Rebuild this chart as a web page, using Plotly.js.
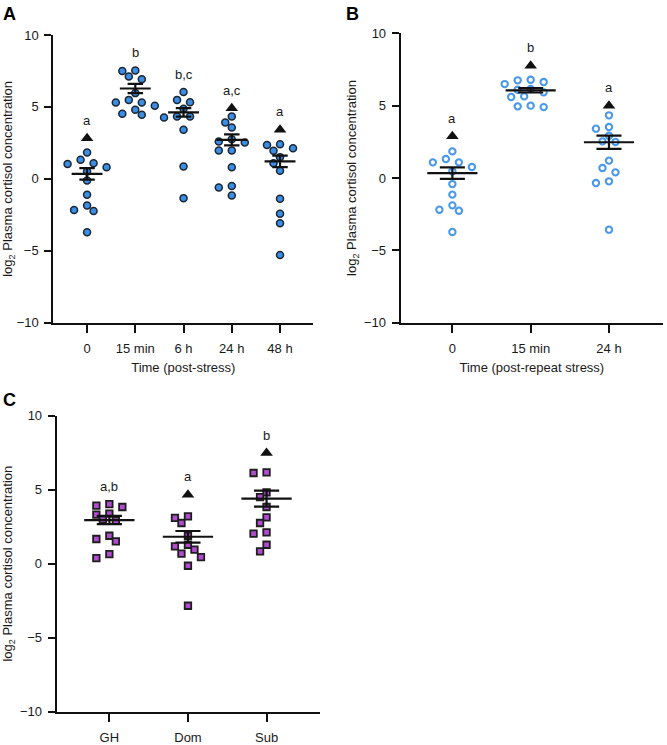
<!DOCTYPE html>
<html>
<head>
<meta charset="utf-8">
<script src="https://cdn.plot.ly/plotly-3.0.1.min.js"></script>
<style>html,body{margin:0;padding:0;background:#fff;}#chart{width:667px;height:745px;}</style>
</head>
<body>
<div id="chart"></div>
<script>
// ---------- DATA ----------
const catsA = ["0", "15 min", "6 h", "24 h", "48 h"];
const valsA = [
  [1.83, 1.32, 1.09, 1.04, 0.81, 0.51, -0.12, -1.11, -1.85, -2.16, -2.23, -3.71],
  [7.53, 7.49, 7.12, 6.93, 5.96, 5.49, 5.31, 5.31, 5.08, 4.80, 4.52, 4.45],
  [6.03, 5.49, 5.33, 4.87, 4.33, 4.33, 4.27, 3.41, 0.86, -1.34],
  [4.33, 3.92, 3.57, 2.75, 2.60, 2.53, 1.97, 1.97, 0.81, -0.49, -0.60, -1.16],
  [2.41, 2.36, 2.13, 1.95, 1.51, 1.09, 0.56, -1.39, -2.43, -3.08, -5.29]
];
const meanA = [0.35, 6.28, 4.62, 2.71, 1.22];
const semA  = [0.40, 0.32, 0.30, 0.38, 0.40];
const triA  = [2.83, null, null, 4.91, 3.41];
const letA  = ["a", "b", "b,c", "a,c", "a"];

const catsB = ["0", "15 min", "24 h"];
const valsB = [
  [1.84, 1.31, 1.08, 1.08, 0.76, 0.46, -0.42, -1.15, -1.89, -2.19, -2.26, -3.73],
  [6.79, 6.75, 6.63, 6.49, 6.15, 6.10, 5.92, 5.64, 5.60, 5.00, 4.95, 4.90],
  [4.33, 3.52, 3.41, 2.92, 2.53, 2.49, 1.20, 0.69, 0.39, -0.23, -0.35, -3.57]
];
const meanB = [0.34, 6.06, 2.47];
const semB  = [0.40, 0.15, 0.46];
const triB  = [2.88, 7.76, 5.00];
const letB  = ["a", "b", "a"];

const catsC = ["GH", "Dom", "Sub"];
const valsC = [
  [4.03, 3.92, 3.83, 3.38, 3.31, 2.97, 2.91, 1.89, 1.67, 1.51, 0.65, 0.38],
  [3.20, 3.09, 2.75, 1.89, 1.28, 1.17, 0.95, 0.68, 0.45, -0.14, -2.84],
  [6.17, 6.13, 4.82, 4.50, 3.83, 3.13, 2.75, 2.12, 2.03, 1.28, 0.83]
];
const meanC = [2.95, 1.82, 4.40];
const semC  = [0.28, 0.39, 0.54];
const triC  = [null, 4.66, 7.48];
const letC  = ["a,b", "a", "b"];

const titleA = "Time (post-stress)";
const titleB = "Time (post-repeat stress)";
const yTitle = "log<sub>2</sub> Plasma cortisol concentration";

// ---------- LAYOUT GEOMETRY ----------
const W = 667, H = 745;
const FONT = "Liberation Sans, Arial, Helvetica, sans-serif";
const panels = [
  {id: "", cats: catsA, vals: valsA, mean: meanA, sem: semA, tri: triA, let: letA,
   xdom: [53.3, 313.3], ydom: [35, 322.7], xr: [-0.70, 4.69], title: titleA,
   marker: {symbol: "circle", size: 7, color: "#3a8ee6", line: {color: "#1b2633", width: 1.5}}},
  {id: "2", cats: catsB, vals: valsB, mean: meanB, sem: semB, tri: triB, let: letB,
   xdom: [400.7, 663], ydom: [33.3, 322.7], xr: [-0.66, 2.69], title: titleB,
   marker: {symbol: "circle", size: 6.3, color: "#ffffff", line: {color: "#4a98ec", width: 2.1}}},
  {id: "3", cats: catsC, vals: valsC, mean: meanC, sem: semC, tri: triC, let: letC,
   xdom: [56.7, 320], ydom: [415.7, 711.7], xr: [-0.67, 2.68], title: null,
   marker: {symbol: "square", size: 6.5, color: "#b24bd0", line: {color: "#1e1e1e", width: 1.8}}}
];
const yr = [-10, 10];

// simple deterministic beeswarm in pixel space
function swarm(values, pxX, pxY) {
  const step = 6.5, coll = 8.0;
  const placed = [];
  const offs = [];
  values.forEach(v => {
    const py = v * pxY;
    for (let k = 0; k < 40; k++) {
      const m = Math.ceil(k / 2) * (k % 2 === 1 ? -1 : 1);
      const px = m * step;
      const ok = placed.every(p => Math.hypot(p[0] - px, p[1] - py) >= coll);
      if (ok) { placed.push([px, py]); offs.push(px / pxX); break; }
    }
  });
  return offs;
}

const traces = [];
const annotations = [];
const layout = {
  width: W, height: H, margin: {l: 0, r: 0, t: 0, b: 0},
  paper_bgcolor: "#fff", plot_bgcolor: "#fff", showlegend: false,
  font: {family: FONT, size: 13, color: "#1a1a1a"}
};

panels.forEach((p, pi) => {
  const xa = "x" + p.id, ya = "y" + p.id;
  const pxX = (p.xdom[1] - p.xdom[0]) / (p.xr[1] - p.xr[0]);
  const pxY = (p.ydom[1] - p.ydom[0]) / (yr[1] - yr[0]);
  const xaxis = {
    domain: [p.xdom[0] / W, p.xdom[1] / W], range: p.xr, anchor: ya,
    tickvals: p.cats.map((c, i) => i), ticktext: p.cats,
    showgrid: false, zeroline: false, showline: true, linecolor: "#111", linewidth: 2,
    ticks: "outside", ticklen: 8, tickwidth: 2, tickcolor: "#111",
    tickfont: {family: FONT, size: 13, color: "#1a1a1a"}, ticklabelstandoff: 5,
    fixedrange: true
  };
  if (p.title) xaxis.title = {text: p.title, font: {family: FONT, size: 13, color: "#1a1a1a"}, standoff: 8};
  layout["xaxis" + p.id] = xaxis;
  layout["yaxis" + p.id] = {
    domain: [1 - p.ydom[1] / H, 1 - p.ydom[0] / H], range: yr, anchor: xa,
    tickvals: [-10, -5, 0, 5, 10],
    showgrid: false, zeroline: false, showline: true, linecolor: "#111", linewidth: 2,
    ticks: "outside", ticklen: 7, tickwidth: 2, tickcolor: "#111",
    tickfont: {family: FONT, size: 13, color: "#1a1a1a"}, ticklabelstandoff: 3,
    title: {text: yTitle, font: {family: FONT, size: 13, color: "#1a1a1a"}, standoff: 4},
    fixedrange: true
  };
  // points
  p.vals.forEach((vals, i) => {
    const offs = swarm(vals, pxX, pxY);
    traces.push({
      type: "scatter", mode: "markers", xaxis: xa, yaxis: ya,
      x: vals.map((v, j) => i + offs[j]), y: vals,
      marker: p.marker, hoverinfo: "y", cliponaxis: false
    });
  });
  // mean and SEM lines
  const lx = [], ly = [];
  p.mean.forEach((m, i) => {
    const s = p.sem[i];
    lx.push(i - 0.32, i + 0.32, null, i, i, null, i - 0.16, i + 0.16, null, i - 0.16, i + 0.16, null);
    ly.push(m, m, null, m - s, m + s, null, m + s, m + s, null, m - s, m - s, null);
  });
  traces.push({type: "scatter", mode: "lines", xaxis: xa, yaxis: ya, x: lx, y: ly,
    line: {color: "#111", width: 2.2}, hoverinfo: "skip", connectgaps: false});
  // triangles
  traces.push({type: "scatter", mode: "markers", xaxis: xa, yaxis: ya,
    x: p.tri.map((t, i) => t === null ? null : i), y: p.tri,
    marker: {symbol: "triangle-up", size: 11, color: "#111"}, hoverinfo: "skip"});
  // letters
  p.let.forEach((l, i) => {
    const top = Math.max(Math.max(...p.vals[i]), p.tri[i] === null ? -99 : p.tri[i]);
    annotations.push({xref: xa, yref: ya, x: i, y: top, text: l, showarrow: false,
      yanchor: "middle", yshift: 18, font: {family: FONT, size: 13, color: "#1a1a1a"}});
  });
});

// panel letters
[["A", 9, 13.5], ["B", 352, 13.5], ["C", 9, 400]].forEach(a => {
  annotations.push({xref: "paper", yref: "paper", x: a[1] / W, y: 1 - a[2] / H,
    xanchor: "center", yanchor: "middle", text: "<b>" + a[0] + "</b>", showarrow: false,
    font: {family: FONT, size: 18, color: "#000"}});
});
layout.annotations = annotations;

Plotly.newPlot("chart", traces, layout, {staticPlot: true, displayModeBar: false});
</script>
</body>
</html>
